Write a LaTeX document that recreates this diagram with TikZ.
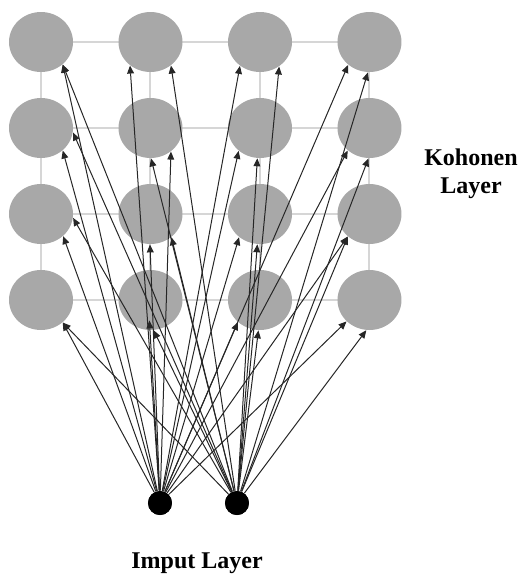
\documentclass[tikz,border=0pt]{standalone}
\usepackage{fontspec}
\setmainfont{Liberation Serif}
\usetikzlibrary{shapes.geometric,arrows.meta}
\begin{document}
\begin{tikzpicture}[x=0.5pt,y=-0.5pt,
  unit/.style={ellipse,fill=black!34,draw=none,minimum width=32pt,minimum height=30pt,inner sep=0pt},
  inp/.style={circle,fill=black,minimum size=12pt,inner sep=0pt},
  gridline/.style={draw=black!16,line width=1pt},
  arr/.style={draw=black!85,line width=0.5pt,-{Triangle[length=4pt,width=3.4pt]}},
  lbl/.style={font=\fontsize{12}{14}\selectfont\bfseries,align=center}]
\useasboundingbox (0,0) rectangle (520,575);
% grid of the Kohonen layer
\foreach \c/\x in {1/41,2/150.5,3/260,4/369.5}{
  \foreach \r/\y in {1/42,2/128,3/214,4/300}{
    \coordinate (g\c\r) at (\x,\y);
  }
}
\foreach \r in {1,2,3,4}{
  \draw[gridline] (g1\r) -- (g4\r);
}
\foreach \c in {1,2,3,4}{
  \draw[gridline] (g\c1) -- (g\c4);
}
\foreach \c in {1,2,3,4}{
  \foreach \r in {1,2,3,4}{
    \node[unit] (k\c\r) at (g\c\r) {};
  }
}
% input layer
\node[inp] (i1) at (160,503) {};
\node[inp] (i2) at (237,503) {};
% full connections from inputs to map units (target border angle)
\foreach \src/\dst/\ang in {
  i1/k11/314, i2/k11/314,
  i1/k21/229, i2/k21/311,
  i1/k31/230, i2/k31/308,
  i1/k41/227, i2/k41/267,
  i1/k12/314, i2/k12/352,
  i1/k22/311, i2/k22/271,
  i1/k32/227, i2/k32/265,
  i1/k42/226, i2/k42/268,
  i1/k13/315, i2/k13/353,
  i1/k23/269, i2/k23/312,
  i1/k33/228, i2/k33/265,
  i1/k43/226, i2/k43/226,
  i1/k14/314, i2/k14/314,
  i2/k24/276,
  i1/k34/225, i2/k34/267,
  i1/k44/223, i2/k44/264}{
  \draw[arr] (\src) -- (\dst.\ang);
}
\draw[arr,shorten >=-5pt] (i1) -- (k24.269);
\node[inp] at (i1) {};
\node[inp] at (i2) {};
% labels
\node[lbl] (klab) at (471,174) {Kohonen\\Layer};
\node[lbl] (ilab) at (197,563) {Imput Layer};
\end{tikzpicture}
\end{document}
